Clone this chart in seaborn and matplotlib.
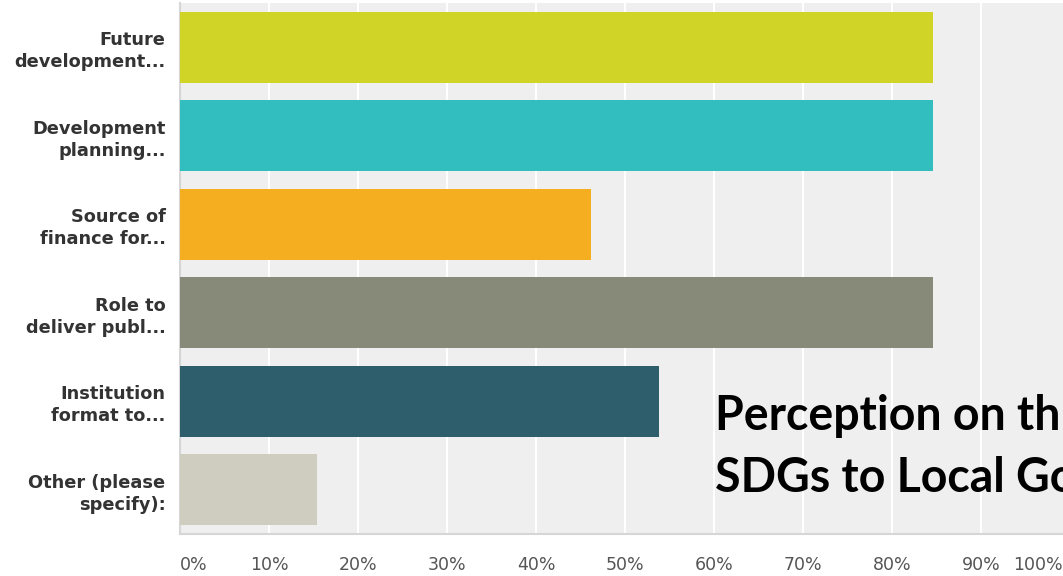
import matplotlib
matplotlib.use("Agg")
import matplotlib.pyplot as plt
import matplotlib.transforms as mtransforms
import seaborn as sns
import pandas as pd

categories = [
    "Future\ndevelopment...",
    "Development\nplanning...",
    "Source of\nfinance for...",
    "Role to\ndeliver publ...",
    "Institution\nformat to...",
    "Other (please\nspecify):",
]
values = [84.62, 84.62, 46.15, 84.62, 53.85, 15.38]
bar_colors = ["#cfd427", "#32bdbf", "#f5ae1f", "#888a79", "#2e5e6b", "#cecdbf"]
tick_values = [0, 10, 20, 30, 40, 50, 60, 70, 80, 90, 100]
tick_labels = ["0%", "10%", "20%", "30%", "40%", "50%", "60%", "70%", "80%", "90%", "100%"]
overlay_lines = ["Perception on th", "SDGs to Local Go"]

sns.set_theme(style="white")
plt.rcParams["font.family"] = ["DejaVu Sans"]

W, H = 1063, 576
fig = plt.figure(figsize=(W / 100, H / 100), dpi=100)
ax = fig.add_axes([180 / W, 1 - 534 / H, 890 / W, 531 / H])
ax.set_facecolor("#efefef")

df = pd.DataFrame({"cat": categories, "val": values})
sns.barplot(data=df, y="cat", x="val", hue="cat", palette=bar_colors,
            legend=False, width=0.8, ax=ax, orient="h", saturation=1,
            edgecolor="none", zorder=3)

ax.set_xlim(0, 100)
ax.set_ylim(5.5, -0.5)
ax.set_xticks(tick_values)
ax.set_xticklabels(tick_labels)
ax.xaxis.grid(True, color="white", linewidth=1.5, zorder=1)
ax.set_axisbelow(True)
ax.set_xlabel("")
ax.set_ylabel("")

for s in ["top", "right"]:
    ax.spines[s].set_visible(False)
ax.spines["left"].set_color("#d6d6d6")
ax.spines["bottom"].set_color("#d6d6d6")
ax.spines["left"].set_linewidth(1.5)
ax.spines["bottom"].set_linewidth(1.5)

ax.tick_params(axis="y", length=0, pad=10.5, labelsize=12.8, labelcolor="#333333")
ax.tick_params(axis="x", length=0, pad=16, labelsize=12.5, labelcolor="#555555")
for lbl in ax.get_yticklabels():
    lbl.set_fontweight("bold")
    lbl.set_multialignment("right")
    lbl.set_linespacing(1.3)

xl = ax.get_xticklabels()
xl[0].set_horizontalalignment("left")
xl[-1].set_horizontalalignment("right")
xl[-1].set_transform(xl[-1].get_transform() + mtransforms.ScaledTranslation(-7 / 100, 0, fig.dpi_scale_trans))

fig.text(715 / W, 1 - 430 / H, overlay_lines[0], fontsize=33.5,
         fontweight="bold", family=["Lato", "DejaVu Sans"], color="black",
         ha="left", va="baseline")
fig.text(715 / W, 1 - 492 / H, overlay_lines[1], fontsize=33.5,
         fontweight="bold", family=["Lato", "DejaVu Sans"], color="black",
         ha="left", va="baseline")

fig.savefig("out.png", dpi=100)
